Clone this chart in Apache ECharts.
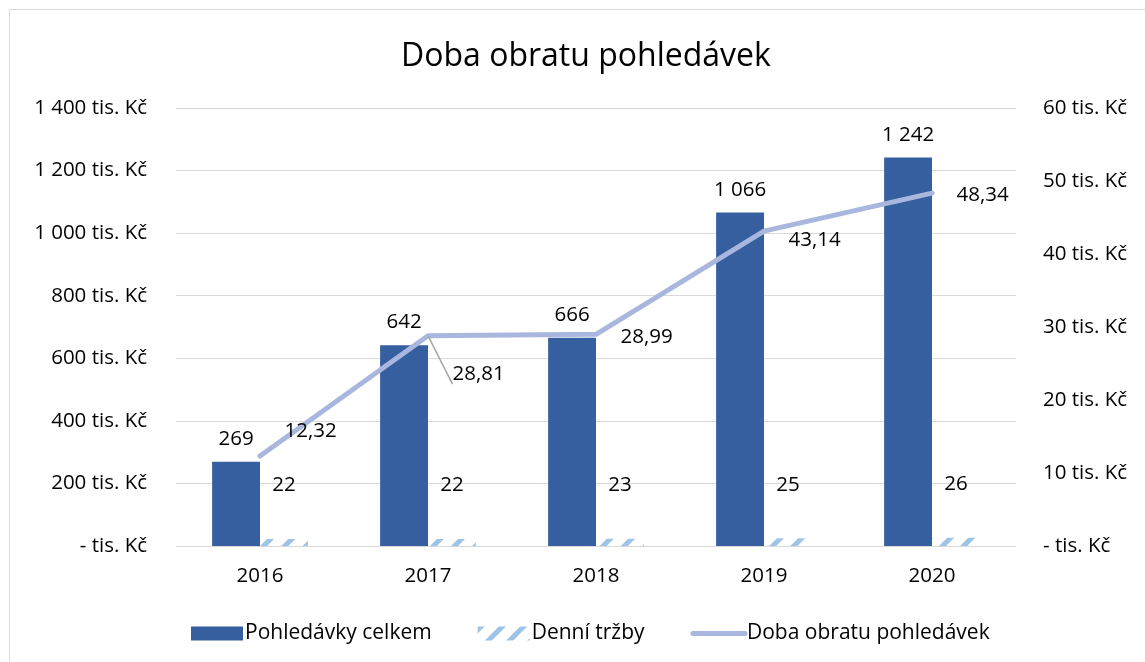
<!DOCTYPE html>
<html>
<head>
<meta charset="utf-8">
<script src="https://cdn.jsdelivr.net/npm/echarts@6/dist/echarts.min.js"></script>
<style>
  html, body { margin: 0; padding: 0; background: #fff; }
  #chart { width: 1145px; height: 662px; }
</style>
</head>
<body>
<div id="chart"></div>
<script>
/* data */
var roky = ['2016', '2017', '2018', '2019', '2020'];
var pohledavkyCelkem = [269, 642, 666, 1066, 1242];
var denniTrzby = [22, 22, 23, 25, 26];
var dobaObratu = [12.32, 28.81, 28.99, 43.14, 48.34];
var leftTicks = [0, 200, 400, 600, 800, 1000, 1200, 1400];
var rightTicks = [0, 10, 20, 30, 40, 50, 60];
// posun popisků čáry
var lineLabelOffsets = [[0, -25], [0, 38], [0, 3], [0, 9], [0, 2]];

var FONT = '"Open Sans", "Noto Sans", sans-serif';
var FS = 20.5;

function tisKc(v) {
  if (v === 0) return '- tis. Kč';
  return String(v).replace(/\B(?=(\d{3})+(?!\d))/g, ' ') + ' tis. Kč';
}
function mezery(v) {
  return String(v).replace(/\B(?=(\d{3})+(?!\d))/g, ' ');
}

var chart = echarts.init(document.getElementById('chart'));

var option = {
  animation: false,
  textStyle: { fontFamily: FONT },
  graphic: [{
    type: 'rect',
    shape: { x: 9.5, y: 9.5, width: 1160, height: 680 },
    style: { fill: 'none', stroke: '#d9d9d9', lineWidth: 1 },
    silent: true
  }],
  title: {
    text: 'Doba obratu pohledávek',
    left: 396,
    top: 36,
    textStyle: { fontFamily: FONT, fontSize: 32, fontWeight: 'normal', color: '#000' }
  },
  legend: {
    left: 186,
    top: 618,
    itemWidth: 52,
    itemHeight: 14,
    itemGap: 46,
    textStyle: { fontFamily: FONT, fontSize: 21, color: '#000', padding: [0, 0, 0, -3] },
    data: [
      { name: 'Pohledávky celkem', icon: 'rect' },
      { name: 'Denní tržby', icon: 'rect' },
      {
        name: 'Doba obratu pohledávek',
        itemStyle: { opacity: 0 },
        lineStyle: { width: 5, cap: 'round', color: '#a9b7de' }
      }
    ]
  },
  grid: { left: 176, right: 129, top: 108, bottom: 116 },
  xAxis: {
    type: 'category',
    data: roky,
    axisLine: { lineStyle: { color: '#d9d9d9' } },
    axisTick: { show: false },
    axisLabel: { color: '#000', fontSize: FS, margin: 20, fontFamily: FONT }
  },
  yAxis: [{
    type: 'value',
    min: 0, max: 1400, interval: 200,
    axisLine: { show: false },
    axisTick: { show: false },
    splitLine: { lineStyle: { color: '#d9d9d9' } },
    axisLabel: {
      color: '#000', fontSize: FS, margin: 29, fontFamily: FONT,
      formatter: function (v) { return leftTicks.indexOf(v) >= 0 ? tisKc(v) : ''; }
    }
  }, {
    type: 'value',
    min: 0, max: 60, interval: 10,
    axisLine: { show: false },
    axisTick: { show: false },
    splitLine: { show: false },
    axisLabel: {
      color: '#000', fontSize: FS, margin: 27, fontFamily: FONT,
      formatter: function (v) { return rightTicks.indexOf(v) >= 0 ? tisKc(v) : ''; }
    }
  }],
  series: [{
    name: 'Pohledávky celkem',
    type: 'bar',
    data: pohledavkyCelkem,
    barGap: '0%',
    barCategoryGap: '43%',
    itemStyle: { color: '#365f9f' },
    label: {
      show: true, position: 'top', distance: 12,
      color: '#000', fontSize: FS, fontFamily: FONT,
      formatter: function (p) { return mezery(p.value); }
    }
  }, {
    name: 'Denní tržby',
    type: 'bar',
    data: denniTrzby,
    itemStyle: {
      color: '#ffffff',
      decal: {
        symbol: 'rect',
        color: '#9dc3e6',
        dashArrayX: [1, 0],
        dashArrayY: [5, 10],
        rotation: -Math.PI / 4
      }
    },
    label: {
      show: true, position: 'top', distance: 43,
      color: '#000', fontSize: FS, fontFamily: FONT
    }
  }, {
    name: 'Doba obratu pohledávek',
    type: 'line',
    yAxisIndex: 1,
    data: dobaObratu.map(function (v, i) {
      return {
        value: v,
        label: { offset: lineLabelOffsets[i] },
        labelLine: { show: i === 1 }
      };
    }),
    symbol: 'circle',
    symbolSize: 1,
    lineStyle: { color: '#a9b7de', width: 5, cap: 'round' },
    itemStyle: { color: '#a9b7de' },
    z: 5,
    label: {
      show: true, position: 'right', distance: 24,
      color: '#000', fontSize: FS, fontFamily: FONT,
      formatter: function (p) { return p.value.toFixed(2).replace('.', ','); }
    },
    labelLine: { show: false, lineStyle: { color: '#a6a6a6', width: 1.5 } }
  }]
};

chart.setOption(option);
</script>
</body>
</html>
